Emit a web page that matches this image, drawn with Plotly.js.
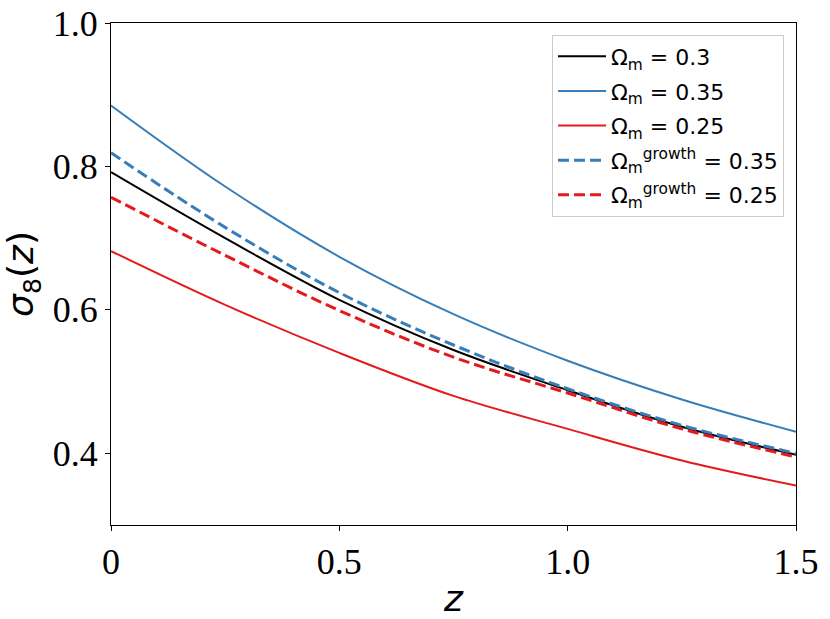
<!DOCTYPE html>
<html>
<head>
<meta charset="utf-8">
<script src="https://cdn.plot.ly/plotly-3.0.1.min.js"></script>
<style>
  html, body { margin: 0; padding: 0; background: #fff; }
  #chart { width: 830px; height: 619px; }
</style>
</head>
<body>
<div id="chart"></div>
<script>
// sigma_8(z)
const z = [0, 0.25, 0.5, 0.75, 1.0, 1.25, 1.5];
const s8Fid = [0.792, 0.700, 0.614, 0.544, 0.488, 0.437, 0.398];
const s8Om035 = [0.885, 0.772, 0.674, 0.594, 0.529, 0.475, 0.430];
const s8Om025 = [0.682, 0.607, 0.540, 0.480, 0.434, 0.390, 0.355];
const s8Growth035 = [0.819, 0.715, 0.624, 0.551, 0.490, 0.439, 0.400];
const s8Growth025 = [0.757, 0.676, 0.599, 0.534, 0.484, 0.434, 0.395];

const xTicks = [0, 0.5, 1.0, 1.5];
const xTickText = ['0', '0.5', '1.0', '1.5'];
const yTicks = [0.4, 0.6, 0.8, 1.0];
const yTickText = ['0.4', '0.6', '0.8', '1.0'];

const blue = '#377eb8';
const red = '#e41a1c';

function line(y, name, color, width, dash, group) {
  return {
    x: z, y: y, type: 'scatter', mode: 'lines', name: name,
    legendgroup: group,
    line: {color: color, width: width, dash: dash, shape: 'spline'}
  };
}

const traces = [
  line(s8Fid, 'Ω<sub>m</sub> = 0.3', '#000000', 2, 'solid', 'a'),
  line(s8Om035, 'Ω<sub>m</sub> = 0.35', blue, 2, 'solid', 'b'),
  line(s8Om025, 'Ω<sub>m</sub> = 0.25', red, 2, 'solid', 'c'),
  line(s8Growth035, 'Ω<sub>m</sub><sup>growth</sup> = 0.35', blue, 3, '11px,5px', 'd'),
  line(s8Growth025, 'Ω<sub>m</sub><sup>growth</sup> = 0.25', red, 3, '11px,5px', 'e')
];

const axisCommon = {
  showgrid: false, zeroline: false,
  showline: true, mirror: true, linecolor: '#000', linewidth: 1,
  ticks: 'outside', ticklen: 5, tickwidth: 1, tickcolor: '#000',
  tickfont: {family: 'Liberation Serif, Times New Roman, serif', size: 36, color: '#000'}
};

Plotly.newPlot('chart', traces, {
  width: 830, height: 619,
  margin: {l: 111, r: 34, t: 23, b: 94},
  paper_bgcolor: '#fff', plot_bgcolor: '#fff',
  showlegend: true,
  legend: {
    x: 0.9825, xanchor: 'right', y: 0.977, yanchor: 'top',
    bgcolor: 'rgba(255,255,255,0.8)', bordercolor: '#cccccc', borderwidth: 1,
    font: {family: 'DejaVu Sans', size: 22, color: '#000'},
    itemwidth: 48,
    tracegroupgap: 3
  },
  xaxis: Object.assign({}, axisCommon, {
    range: [0, 1.5], tickvals: xTicks, ticktext: xTickText,
    title: {text: '<i>z</i>', font: {family: 'DejaVu Sans', size: 36, color: '#000'}, standoff: 6}
  }),
  yaxis: Object.assign({}, axisCommon, {
    range: [0.3, 1.0], tickvals: yTicks, ticktext: yTickText,
    title: {text: '<i>σ</i><sub>8</sub>(<i>z</i>)', font: {family: 'DejaVu Sans', size: 36, color: '#000'}, standoff: 12}
  })
}, {displayModeBar: false});
</script>
</body>
</html>
